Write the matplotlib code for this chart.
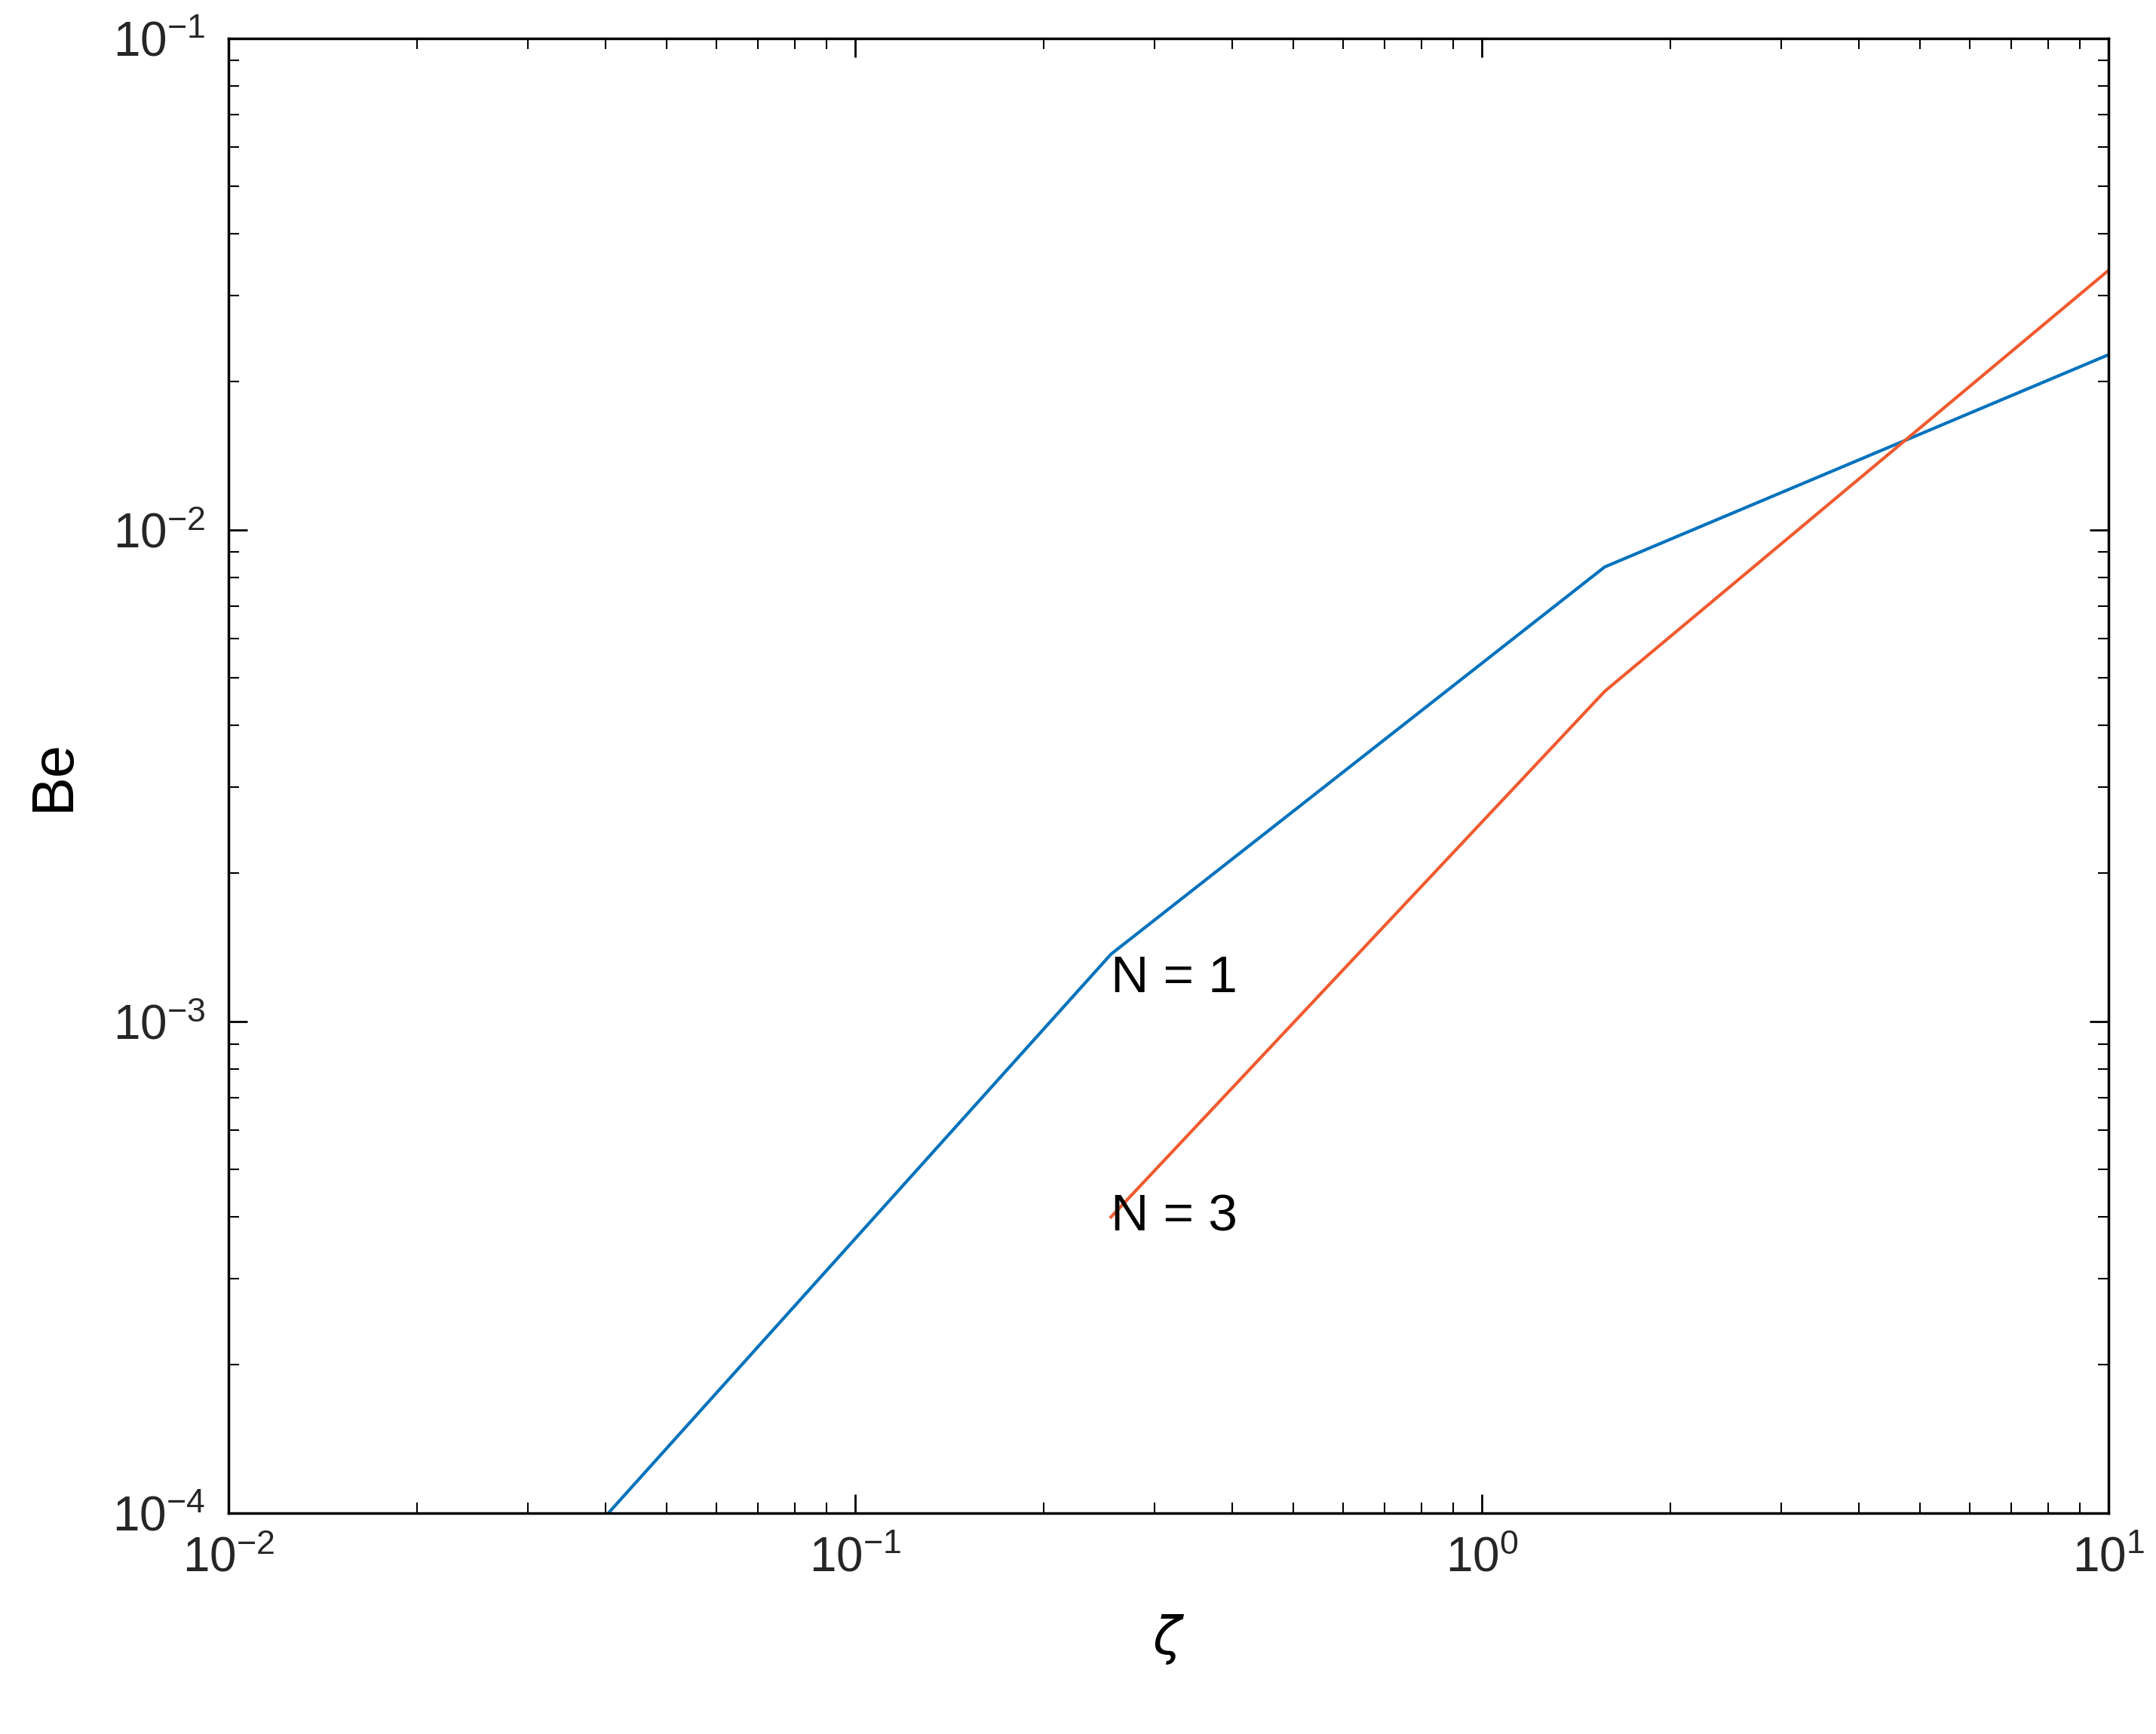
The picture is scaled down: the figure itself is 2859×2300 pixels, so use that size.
import matplotlib
matplotlib.use("Agg")
import matplotlib.pyplot as plt

# Data (log-log)
zeta_n1 = [0.0404, 0.256, 1.57, 10.0]
be_n1 = [1.0e-4, 1.37e-3, 8.4e-3, 0.0227]
zeta_n3 = [0.256, 1.57, 10.0]
be_n3 = [4.0e-4, 4.69e-3, 0.0337]

plt.rcParams["font.family"] = ["Liberation Sans", "DejaVu Sans"]
plt.rcParams["mathtext.fontset"] = "dejavusans"

fig = plt.figure(figsize=(28.59, 23.0), dpi=100)
ax = fig.add_axes([0.106, 0.1275, 0.872, 0.8505])

ax.plot(zeta_n1, be_n1, color="#0072BD", linewidth=3)
ax.plot(zeta_n3, be_n3, color="#F05A2E", linewidth=3)

ax.set_xscale("log")
ax.set_yscale("log")
ax.set_xlim(1e-2, 1e1)
ax.set_ylim(1e-4, 1e-1)

ax.text(zeta_n1[1], be_n1[1], "N = 1", fontsize=50, ha="left", va="top")
ax.text(zeta_n3[0], be_n3[0], "N = 3", fontsize=50, ha="left", va="center")

ax.set_xlabel(r"$\zeta$", fontsize=50, labelpad=30)
ax.set_ylabel("Be", fontsize=56, labelpad=30)

ax.tick_params(which="both", direction="in", top=True, right=True, labelsize=46)
ax.tick_params(which="major", length=18, width=2, pad=22)
ax.tick_params(which="minor", length=10, width=1.5)
for sp in ax.spines.values():
    sp.set_linewidth(2.5)
for lab in ax.get_xticklabels() + ax.get_yticklabels():
    lab.set_color("#262626")

fig.savefig("out.png", dpi=100)
